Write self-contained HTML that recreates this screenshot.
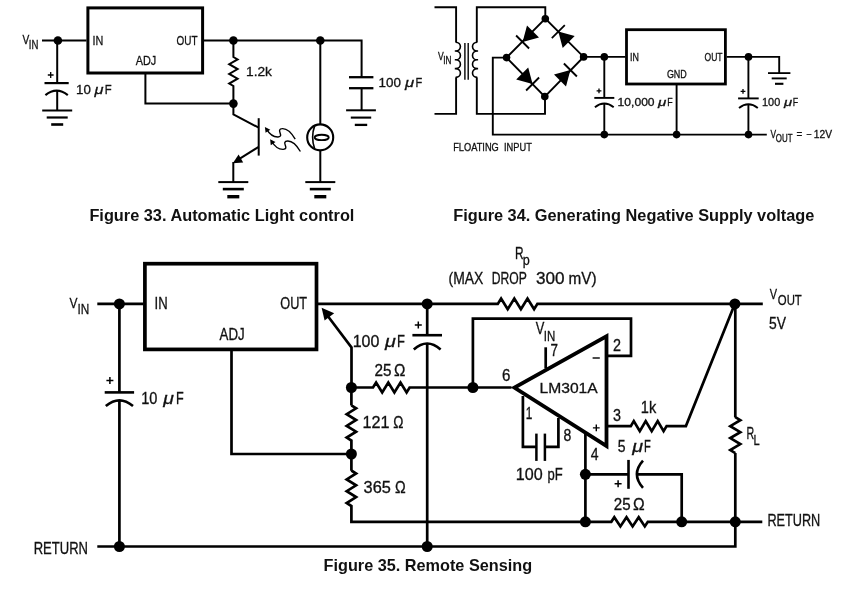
<!DOCTYPE html>
<html><head><meta charset="utf-8"><title>Figures 33-35</title>
<style>
html,body{margin:0;padding:0;background:#fff;}
body{width:850px;height:590px;overflow:hidden;font-family:"Liberation Sans",sans-serif;}
svg{display:block;will-change:transform;}
svg path,svg rect,svg circle,svg ellipse{fill:none;stroke:#000;stroke-linecap:butt;}
svg .f{fill:#000;stroke:none;}
svg text{font-family:"Liberation Sans",sans-serif;fill:#111;stroke:#111;stroke-width:0.3px;}
svg text.b{stroke:none;}
</style></head><body>
<svg width="850" height="590" viewBox="0 0 850 590">
<rect x="0" y="0" width="850" height="590" style="fill:#fff;stroke:none"/>
<rect x="87.9" y="7.9" width="114.7" height="65.1" stroke-width="3.0"/>
<path d="M42.0,40.5 L86.5,40.5" stroke-width="2.0" />
<circle cx="57.9" cy="40.5" r="4.3" class="f"/>
<path d="M57.2,40.5 L57.2,83.1" stroke-width="2.0" />
<path d="M44.5,83.1 L68.7,83.1" stroke-width="2.2" />
<path d="M45.4,95.1 Q56.6,86.3 67.8,95.1" stroke-width="2.2" />
<path d="M57.2,90.7 L57.2,110.5" stroke-width="2.0" />
<path d="M42.2,110.5 L72.2,110.5" stroke-width="2.0" />
<path d="M46.7,117.5 L67.7,117.5" stroke-width="2.2" />
<path d="M51.2,124.5 L63.2,124.5" stroke-width="2.6" />
<path d="M47.8,75.0 H53.6 M50.7,72.1 V77.9" stroke-width="1.3" />
<path d="M145.4,74.0 L145.4,103.6 L233.4,103.6" stroke-width="2.0" />
<path d="M204.0,40.5 L361.6,40.5 L361.6,77.2" stroke-width="2.0" />
<circle cx="233.4" cy="40.5" r="4.3" class="f"/>
<circle cx="320.3" cy="40.5" r="4.3" class="f"/>
<path d="M233.4,40.5 L233.4,57.0 L233.4,57.0 L237.6,59.4 L229.2,64.2 L237.6,69.1 L229.2,73.9 L237.6,78.7 L229.2,83.6 L233.4,86.0 L233.4,86.0 L233.4,103.6" stroke-width="2.0" />
<circle cx="233.4" cy="103.6" r="4.3" class="f"/>
<path d="M349.0,77.2 L373.4,77.2" stroke-width="2.3" />
<path d="M349.0,88.2 L373.4,88.2" stroke-width="2.3" />
<path d="M361.6,88.2 L361.6,110.3" stroke-width="2.0" />
<path d="M346.1,110.3 L375.9,110.3" stroke-width="2.0" />
<path d="M350.8,117.6 L371.2,117.6" stroke-width="2.1" />
<path d="M354.8,124.9 L367.2,124.9" stroke-width="2.3" />
<path d="M233.4,103.6 L233.4,114.4 L258.7,127.7" stroke-width="2.0" />
<path d="M258.7,118.2 L258.7,155.6" stroke-width="2.0" />
<path d="M258.7,146.8 L237.0,160.3" stroke-width="2.0" />
<path d="M232.8,163.2 L238.6,154.4 L243.2,162.4 Z" class="f"/>
<path d="M233.3,162.0 L233.3,182.1" stroke-width="2.0" />
<path d="M218.3,182.1 L248.3,182.1" stroke-width="2.0" />
<path d="M222.8,189.1 L243.8,189.1" stroke-width="2.6" />
<path d="M227.3,196.7 L239.3,196.7" stroke-width="3.4" />
<path d="M320.3,40.5 L320.3,124.2" stroke-width="2.0" />
<circle cx="320.2" cy="137.4" r="13.0" stroke-width="2.1"/>
<ellipse cx="321.7" cy="137.4" rx="7.0" ry="2.7" stroke-width="1.9"/>
<path d="M314.8,125.4 Q310.4,137.4 314.8,149.4" stroke-width="1.6" />
<path d="M320.3,150.6 L320.3,182.1" stroke-width="2.0" />
<path d="M305.3,182.1 L335.3,182.1" stroke-width="2.0" />
<path d="M309.8,189.1 L330.8,189.1" stroke-width="2.6" />
<path d="M314.3,196.7 L326.3,196.7" stroke-width="3.4" />
<path d="M266.2,128.6 C268.5,132.5 272.0,137.2 278.0,137.0 C285.0,136.6 275.0,129.0 282.5,128.6 C288.5,128.4 292.5,134.5 295.2,139.1" stroke-width="1.4" />
<path d="M264.9,126.9 L270.3,129.7 L265.6,132.8 Z" class="f"/>
<path d="M271.4,141.0 C273.7,144.9 277.2,149.6 283.2,149.4 C290.2,149.0 280.2,141.4 287.7,141.0 C293.7,140.8 297.7,146.9 300.4,151.5" stroke-width="1.4" />
<path d="M270.1,139.3 L275.5,142.1 L270.8,145.2 Z" class="f"/>
<text x="22.6" y="43.8" font-size="12.6" textLength="6.8" lengthAdjust="spacingAndGlyphs" >V</text>
<text x="28.8" y="48.8" font-size="12.4" textLength="9.6" lengthAdjust="spacingAndGlyphs" >IN</text>
<text x="92.6" y="45.3" font-size="13.0" textLength="10.8" lengthAdjust="spacingAndGlyphs" >IN</text>
<text x="176.5" y="45.3" font-size="13.0" textLength="21.0" lengthAdjust="spacingAndGlyphs" >OUT</text>
<text x="135.7" y="65.2" font-size="13.0" textLength="20.5" lengthAdjust="spacingAndGlyphs" >ADJ</text>
<text x="76.0" y="93.6" font-size="13.0" textLength="14.8" lengthAdjust="spacingAndGlyphs" >10</text>
<text x="94.6" y="93.6" font-size="13.0" textLength="9.0" lengthAdjust="spacingAndGlyphs" ><tspan font-style="italic">μ</tspan></text>
<text x="104.7" y="93.6" font-size="13.0" textLength="6.9" lengthAdjust="spacingAndGlyphs" >F</text>
<text x="246.0" y="76.1" font-size="13.0" textLength="26.0" lengthAdjust="spacingAndGlyphs" >1.2k</text>
<text x="378.6" y="87.3" font-size="13.0" textLength="22.4" lengthAdjust="spacingAndGlyphs" >100</text>
<text x="404.9" y="87.3" font-size="13.0" textLength="9.2" lengthAdjust="spacingAndGlyphs" ><tspan font-style="italic">μ</tspan></text>
<text x="415.5" y="87.3" font-size="13.0" textLength="6.7" lengthAdjust="spacingAndGlyphs" >F</text>
<text x="89.4" y="221.4" font-size="16.3" textLength="265.0" lengthAdjust="spacingAndGlyphs" font-weight="bold" class="b" >Figure 33. Automatic Light control</text>
<path d="M434.5,7.3 L456.1,7.3 L456.1,42.2" stroke-width="1.9" />
<path d="M455.6,42.2 C462.0,42.2 462.0,51.0 455.6,51.0 L454.8,51.0 L455.6,51.0 C462.0,51.0 462.0,59.8 455.6,59.8 L454.8,59.8 L455.6,59.8 C462.0,59.8 462.0,68.6 455.6,68.6 L454.8,68.6 L455.6,68.6 C462.0,68.6 462.0,77.4 455.6,77.4" stroke-width="1.6" />
<path d="M456.1,77.4 L456.1,113.9 L434.5,113.9" stroke-width="1.9" />
<path d="M464.9,42.9 L464.9,79.8" stroke-width="1.4" />
<path d="M468.2,42.9 L468.2,79.8" stroke-width="1.4" />
<path d="M545.3,18.6 L545.3,7.3 L476.8,7.3 L476.8,42.2" stroke-width="1.9" />
<path d="M477.3,42.2 C470.9,42.2 470.9,51.0 477.3,51.0 L478.1,51.0 L477.3,51.0 C470.9,51.0 470.9,59.8 477.3,59.8 L478.1,59.8 L477.3,59.8 C470.9,59.8 470.9,68.6 477.3,68.6 L478.1,68.6 L477.3,68.6 C470.9,68.6 470.9,77.4 477.3,77.4" stroke-width="1.6" />
<path d="M476.8,77.4 L476.8,113.9 L545.0,113.9 L545.0,96.6" stroke-width="1.9" />
<path d="M506.6,57.6 L545.3,18.7 L583.6,56.9 L544.8,96.6 L506.6,57.6" stroke-width="1.9" stroke-linejoin="miter"/>
<circle cx="545.3" cy="18.7" r="3.8" class="f"/>
<circle cx="506.6" cy="57.6" r="3.8" class="f"/>
<circle cx="583.6" cy="56.9" r="3.8" class="f"/>
<circle cx="544.8" cy="96.6" r="3.8" class="f"/>
<path d="M522.6,42.0 L527.0,25.6 L539.0,37.6 Z" class="f"/>
<path d="M516.1,35.5 L529.1,48.5" stroke-width="1.8" />
<path d="M558.3,31.6 L574.7,36.0 L562.7,48.0 Z" class="f"/>
<path d="M564.8,25.1 L551.8,38.1" stroke-width="1.8" />
<path d="M532.6,84.0 L516.2,79.6 L528.2,67.6 Z" class="f"/>
<path d="M526.1,90.5 L539.1,77.5" stroke-width="1.8" />
<path d="M570.4,70.0 L566.0,86.4 L554.0,74.4 Z" class="f"/>
<path d="M576.9,76.5 L563.9,63.5" stroke-width="1.8" />
<path d="M506.6,57.6 L492.8,57.6 L492.8,134.6 L766.8,134.6" stroke-width="1.9" />
<path d="M583.6,56.9 L625.5,56.9" stroke-width="1.9" />
<circle cx="604.3" cy="56.9" r="3.8" class="f"/>
<path d="M604.3,56.9 L604.3,97.9" stroke-width="1.9" />
<path d="M594.3,97.9 L614.3,97.9" stroke-width="1.9" />
<path d="M594.9,107.2 Q604.3,99.8 613.7,107.2" stroke-width="1.9" />
<path d="M604.3,103.5 L604.3,134.6" stroke-width="1.9" />
<circle cx="604.3" cy="134.6" r="3.8" class="f"/>
<path d="M596.6,90.8 H601.4 M599.0,88.4 V93.2" stroke-width="1.3" />
<rect x="626.5" y="29.7" width="98.9" height="54.3" stroke-width="2.8"/>
<path d="M676.6,85.0 L676.6,134.6" stroke-width="1.9" />
<circle cx="676.6" cy="134.6" r="3.8" class="f"/>
<path d="M726.7,56.9 L779.2,56.9 L779.2,73.1" stroke-width="1.9" />
<path d="M768.0,73.1 L790.4,73.1" stroke-width="1.8" />
<path d="M771.7,78.4 L786.7,78.4" stroke-width="1.9" />
<path d="M775.0,83.8 L783.4,83.8" stroke-width="2.1" />
<circle cx="748.5" cy="56.9" r="3.8" class="f"/>
<path d="M748.4,56.9 L748.4,98.4" stroke-width="1.9" />
<path d="M738.1,98.4 L758.7,98.4" stroke-width="1.9" />
<path d="M739.0,107.9 Q748.4,100.5 757.8,107.9" stroke-width="1.9" />
<path d="M748.4,104.2 L748.4,134.6" stroke-width="1.9" />
<circle cx="748.5" cy="134.6" r="3.8" class="f"/>
<path d="M740.6,91.3 H745.4 M743.0,88.9 V93.7" stroke-width="1.3" />
<text x="437.9" y="60.2" font-size="10.6" textLength="5.7" lengthAdjust="spacingAndGlyphs" >V</text>
<text x="443.2" y="64.4" font-size="10.2" textLength="8.2" lengthAdjust="spacingAndGlyphs" >IN</text>
<text x="630.1" y="60.6" font-size="10.8" textLength="8.9" lengthAdjust="spacingAndGlyphs" >IN</text>
<text x="704.5" y="60.6" font-size="10.8" textLength="18.0" lengthAdjust="spacingAndGlyphs" >OUT</text>
<text x="666.9" y="78.0" font-size="10.8" textLength="19.9" lengthAdjust="spacingAndGlyphs" >GND</text>
<text x="617.6" y="105.9" font-size="10.8" textLength="37.0" lengthAdjust="spacingAndGlyphs" >10,000</text>
<text x="658.0" y="105.9" font-size="10.8" textLength="8.3" lengthAdjust="spacingAndGlyphs" ><tspan font-style="italic">μ</tspan></text>
<text x="667.3" y="105.9" font-size="10.8" textLength="5.4" lengthAdjust="spacingAndGlyphs" >F</text>
<text x="762.0" y="105.9" font-size="10.8" textLength="18.2" lengthAdjust="spacingAndGlyphs" >100</text>
<text x="784.1" y="105.9" font-size="10.8" textLength="8.1" lengthAdjust="spacingAndGlyphs" ><tspan font-style="italic">μ</tspan></text>
<text x="792.7" y="105.9" font-size="10.8" textLength="5.4" lengthAdjust="spacingAndGlyphs" >F</text>
<text x="453.2" y="150.6" font-size="10.8" textLength="45.6" lengthAdjust="spacingAndGlyphs" >FLOATING</text>
<text x="504.0" y="150.6" font-size="10.8" textLength="27.8" lengthAdjust="spacingAndGlyphs" >INPUT</text>
<text x="770.6" y="137.8" font-size="10.8" textLength="5.6" lengthAdjust="spacingAndGlyphs" >V</text>
<text x="775.8" y="141.9" font-size="10.2" textLength="16.7" lengthAdjust="spacingAndGlyphs" >OUT</text>
<text x="796.6" y="138.2" font-size="10.8" textLength="5.8" lengthAdjust="spacingAndGlyphs" >=</text>
<text x="806.3" y="138.2" font-size="10.8" textLength="5.3" lengthAdjust="spacingAndGlyphs" >−</text>
<text x="813.8" y="138.2" font-size="10.8" textLength="18.2" lengthAdjust="spacingAndGlyphs" >12V</text>
<text x="453.2" y="221.0" font-size="16.3" textLength="361.1" lengthAdjust="spacingAndGlyphs" font-weight="bold" class="b" >Figure 34. Generating Negative Supply voltage</text>
<rect x="144.9" y="263.7" width="171.6" height="85.7" stroke-width="3.7"/>
<path d="M97.3,303.9 L143.5,303.9" stroke-width="2.7" />
<circle cx="119.4" cy="303.9" r="5.5" class="f"/>
<path d="M119.4,303.9 L119.4,392.6" stroke-width="2.7" />
<path d="M104.7,392.4 L134.1,392.4" stroke-width="2.6" />
<path d="M105.8,406.0 Q119.4,394.6 133.0,406.0" stroke-width="2.6" />
<path d="M119.4,400.3 L119.4,546.5" stroke-width="2.7" />
<path d="M106.4,380.6 H113.4 M109.9,377.1 V384.1" stroke-width="1.5" />
<circle cx="119.4" cy="546.5" r="5.5" class="f"/>
<path d="M97.3,546.5 L735.3,546.5 L735.3,521.8" stroke-width="2.7" />
<path d="M231.5,350.5 L231.5,454.0 L351.4,454.0" stroke-width="2.7" />
<path d="M318.0,303.9 L497.8,303.9 L497.8,303.9 L501.1,298.6 L507.7,309.2 L514.3,298.6 L520.9,309.2 L527.5,298.6 L534.1,309.2 L537.4,303.9 L537.4,303.9 L762.8,303.9" stroke-width="2.7" stroke-linejoin="miter"/>
<circle cx="427.2" cy="303.9" r="5.5" class="f"/>
<path d="M427.2,303.9 L427.2,335.2" stroke-width="2.7" />
<path d="M412.4,335.2 L442.0,335.2" stroke-width="2.6" />
<path d="M413.8,349.5 Q427.2,337.5 440.6,349.5" stroke-width="2.6" />
<path d="M427.2,343.5 L427.2,546.5" stroke-width="2.7" />
<circle cx="427.2" cy="546.5" r="5.5" class="f"/>
<path d="M414.8,325.1 H421.8 M418.3,321.6 V328.6" stroke-width="1.5" />
<path d="M325.5,313.0 L351.5,347.4 L351.5,387.5" stroke-width="2.7" />
<path d="M321.6,307.8 L334.2,313.2 L324.6,320.4 Z" class="f"/>
<circle cx="351.4" cy="387.5" r="5.5" class="f"/>
<path d="M351.4,387.5 L373.0,387.5 L373.0,387.5 L376.1,382.6 L382.2,392.4 L388.3,382.6 L394.4,392.4 L400.5,382.6 L406.6,392.4 L409.6,387.5 L409.6,387.5 L511.5,387.5" stroke-width="2.7" />
<circle cx="472.9" cy="387.5" r="5.5" class="f"/>
<path d="M351.4,387.5 L351.4,405.6 L351.4,405.4 L356.1,408.3 L346.7,414.2 L356.1,420.0 L346.7,425.9 L356.1,431.7 L346.7,437.6 L351.4,440.5 L351.4,440.5 L351.4,454.0" stroke-width="2.7" />
<circle cx="351.4" cy="454.0" r="5.5" class="f"/>
<path d="M351.4,454.0 L351.4,470.7 L351.4,470.5 L356.1,473.5 L346.7,479.4 L356.1,485.3 L346.7,491.2 L356.1,497.1 L346.7,503.0 L351.4,506.0 L351.4,506.0 L351.4,521.8 L611.1,521.8 L611.3,521.8 L614.3,517.2 L620.4,526.4 L626.5,517.2 L632.6,526.4 L638.7,517.2 L644.8,526.4 L647.8,521.8 L647.8,521.8 L762.3,521.8" stroke-width="2.7" />
<path d="M472.9,387.5 L472.9,318.7 L631.0,318.7 L631.0,355.9 L606.5,355.9" stroke-width="2.7" />
<path class="f" fill-rule="evenodd" d="M510.7,387.6 L608.4,333.0 L608.4,449.4 Z M518.1,387.8 L604.6,339.5 L604.6,442.5 Z"/>
<path d="M545.7,347.3 L545.7,368.5" stroke-width="2.7" />
<path d="M522.9,396.0 L522.9,446.8 L536.4,446.8" stroke-width="2.7" />
<path d="M536.4,433.6 L536.4,460.9" stroke-width="2.5" />
<path d="M544.9,433.6 L544.9,460.9" stroke-width="2.5" />
<path d="M544.9,446.8 L558.4,446.8 L558.4,418.0" stroke-width="2.7" />
<path d="M585.4,434.0 L585.4,521.8" stroke-width="2.7" />
<circle cx="585.4" cy="474.3" r="5.5" class="f"/>
<circle cx="585.4" cy="521.8" r="5.5" class="f"/>
<path d="M585.4,474.3 L628.5,474.3" stroke-width="2.7" />
<path d="M628.5,459.9 L628.5,488.8" stroke-width="2.6" />
<path d="M643,460.6 Q630.8,474.2 643,487.8" stroke-width="2.6" />
<path d="M637.0,474.3 L681.7,474.3 L681.7,521.8" stroke-width="2.7" />
<circle cx="681.7" cy="521.8" r="5.5" class="f"/>
<path d="M614.6,483.7 H621.6 M618.1,480.2 V487.2" stroke-width="1.5" />
<path d="M606.5,426.1 L630.8,426.1 L630.8,426.1 L633.8,421.1 L639.8,431.1 L645.7,421.1 L651.7,431.1 L657.7,421.1 L663.6,431.1 L666.6,426.1 L666.6,426.1 L685.9,426.1 L734.8,303.9" stroke-width="2.7" stroke-linejoin="miter"/>
<circle cx="734.9" cy="303.9" r="5.5" class="f"/>
<path d="M735.3,303.9 L735.3,417.6 L735.3,417.2 L740.3,420.2 L730.3,426.2 L740.3,432.2 L730.3,438.1 L740.3,444.1 L730.3,450.1 L735.3,453.1 L735.3,452.9 L735.3,521.8" stroke-width="2.7" />
<circle cx="735.3" cy="521.8" r="5.5" class="f"/>
<text x="69.6" y="307.8" font-size="14.8" textLength="8.0" lengthAdjust="spacingAndGlyphs" >V</text>
<text x="77.5" y="313.9" font-size="14.6" textLength="11.8" lengthAdjust="spacingAndGlyphs" >IN</text>
<text x="154.6" y="309.3" font-size="15.6" textLength="13.1" lengthAdjust="spacingAndGlyphs" >IN</text>
<text x="280.3" y="309.4" font-size="15.6" textLength="26.8" lengthAdjust="spacingAndGlyphs" >OUT</text>
<text x="219.6" y="339.8" font-size="15.6" textLength="25.1" lengthAdjust="spacingAndGlyphs" >ADJ</text>
<text x="141.2" y="403.6" font-size="15.6" textLength="16.2" lengthAdjust="spacingAndGlyphs" >10</text>
<text x="163.2" y="403.6" font-size="15.6" textLength="10.6" lengthAdjust="spacingAndGlyphs" ><tspan font-style="italic">μ</tspan></text>
<text x="176.1" y="403.6" font-size="15.6" textLength="7.7" lengthAdjust="spacingAndGlyphs" >F</text>
<text x="33.7" y="553.7" font-size="15.6" textLength="54.3" lengthAdjust="spacingAndGlyphs" >RETURN</text>
<text x="352.7" y="346.5" font-size="15.6" textLength="26.7" lengthAdjust="spacingAndGlyphs" >100</text>
<text x="385.0" y="346.5" font-size="15.6" textLength="10.8" lengthAdjust="spacingAndGlyphs" ><tspan font-style="italic">μ</tspan></text>
<text x="397.1" y="346.5" font-size="15.6" textLength="7.9" lengthAdjust="spacingAndGlyphs" >F</text>
<text x="374.6" y="376.3" font-size="15.6" textLength="17.0" lengthAdjust="spacingAndGlyphs" >25</text>
<text x="394.0" y="376.3" font-size="15.6" textLength="11.4" lengthAdjust="spacingAndGlyphs" >Ω</text>
<text x="362.6" y="427.7" font-size="15.6" textLength="27.0" lengthAdjust="spacingAndGlyphs" >121</text>
<text x="393.3" y="427.7" font-size="15.6" textLength="10.2" lengthAdjust="spacingAndGlyphs" >Ω</text>
<text x="363.6" y="492.6" font-size="15.6" textLength="27.3" lengthAdjust="spacingAndGlyphs" >365</text>
<text x="395.1" y="492.6" font-size="15.6" textLength="10.7" lengthAdjust="spacingAndGlyphs" >Ω</text>
<text x="515.0" y="259.0" font-size="15.6" textLength="8.6" lengthAdjust="spacingAndGlyphs" >R</text>
<text x="522.8" y="265.0" font-size="14.3" textLength="7.0" lengthAdjust="spacingAndGlyphs" >p</text>
<text x="448.6" y="283.7" font-size="16.0" textLength="34.8" lengthAdjust="spacingAndGlyphs" >(MAX</text>
<text x="491.8" y="283.7" font-size="16.0" textLength="35.1" lengthAdjust="spacingAndGlyphs" >DROP</text>
<text x="536.0" y="283.7" font-size="16.0" textLength="28.6" lengthAdjust="spacingAndGlyphs" >300</text>
<text x="568.6" y="283.7" font-size="16.0" textLength="28.0" lengthAdjust="spacingAndGlyphs" >mV)</text>
<text x="535.7" y="334.3" font-size="15.6" textLength="8.6" lengthAdjust="spacingAndGlyphs" >V</text>
<text x="543.8" y="340.9" font-size="14.3" textLength="11.5" lengthAdjust="spacingAndGlyphs" >IN</text>
<text x="550.6" y="355.7" font-size="15.6" textLength="7.5" lengthAdjust="spacingAndGlyphs" >7</text>
<text x="612.9" y="350.5" font-size="15.6" textLength="8.0" lengthAdjust="spacingAndGlyphs" >2</text>
<path d="M592.6,358.0 L599.8,358.0" stroke-width="1.4" />
<text x="502.0" y="381.2" font-size="15.6" textLength="8.4" lengthAdjust="spacingAndGlyphs" >6</text>
<text x="539.5" y="392.8" font-size="15.1" textLength="58.2" lengthAdjust="spacingAndGlyphs" >LM301A</text>
<text x="525.8" y="418.6" font-size="15.6" textLength="6.6" lengthAdjust="spacingAndGlyphs" >1</text>
<text x="563.5" y="440.7" font-size="15.6" textLength="7.8" lengthAdjust="spacingAndGlyphs" >8</text>
<text x="515.8" y="479.9" font-size="15.6" textLength="26.9" lengthAdjust="spacingAndGlyphs" >100</text>
<text x="547.4" y="479.9" font-size="15.6" textLength="15.2" lengthAdjust="spacingAndGlyphs" >pF</text>
<text x="590.8" y="459.5" font-size="15.6" textLength="7.8" lengthAdjust="spacingAndGlyphs" >4</text>
<path d="M592.9,427.9 H599.7 M596.3,424.5 V431.3" stroke-width="1.4" />
<text x="612.9" y="421.1" font-size="15.6" textLength="8.0" lengthAdjust="spacingAndGlyphs" >3</text>
<text x="640.8" y="412.8" font-size="15.6" textLength="15.4" lengthAdjust="spacingAndGlyphs" >1k</text>
<text x="617.7" y="452.3" font-size="15.6" textLength="7.8" lengthAdjust="spacingAndGlyphs" >5</text>
<text x="632.2" y="452.3" font-size="15.6" textLength="10.8" lengthAdjust="spacingAndGlyphs" ><tspan font-style="italic">μ</tspan></text>
<text x="644.0" y="452.3" font-size="15.6" textLength="6.8" lengthAdjust="spacingAndGlyphs" >F</text>
<text x="613.8" y="509.6" font-size="15.6" textLength="16.8" lengthAdjust="spacingAndGlyphs" >25</text>
<text x="633.0" y="509.6" font-size="15.6" textLength="11.7" lengthAdjust="spacingAndGlyphs" >Ω</text>
<text x="769.7" y="298.5" font-size="14.8" textLength="7.3" lengthAdjust="spacingAndGlyphs" >V</text>
<text x="777.8" y="305.0" font-size="15.0" textLength="24.0" lengthAdjust="spacingAndGlyphs" >OUT</text>
<text x="769.0" y="328.8" font-size="15.6" textLength="17.0" lengthAdjust="spacingAndGlyphs" >5V</text>
<text x="746.5" y="438.9" font-size="15.6" textLength="7.7" lengthAdjust="spacingAndGlyphs" >R</text>
<text x="753.6" y="444.8" font-size="14.3" textLength="6.2" lengthAdjust="spacingAndGlyphs" >L</text>
<text x="767.4" y="526.1" font-size="15.6" textLength="52.9" lengthAdjust="spacingAndGlyphs" >RETURN</text>
<text x="323.6" y="571.2" font-size="16.3" textLength="208.5" lengthAdjust="spacingAndGlyphs" font-weight="bold" class="b" >Figure 35. Remote Sensing</text>
</svg>
</body></html>
